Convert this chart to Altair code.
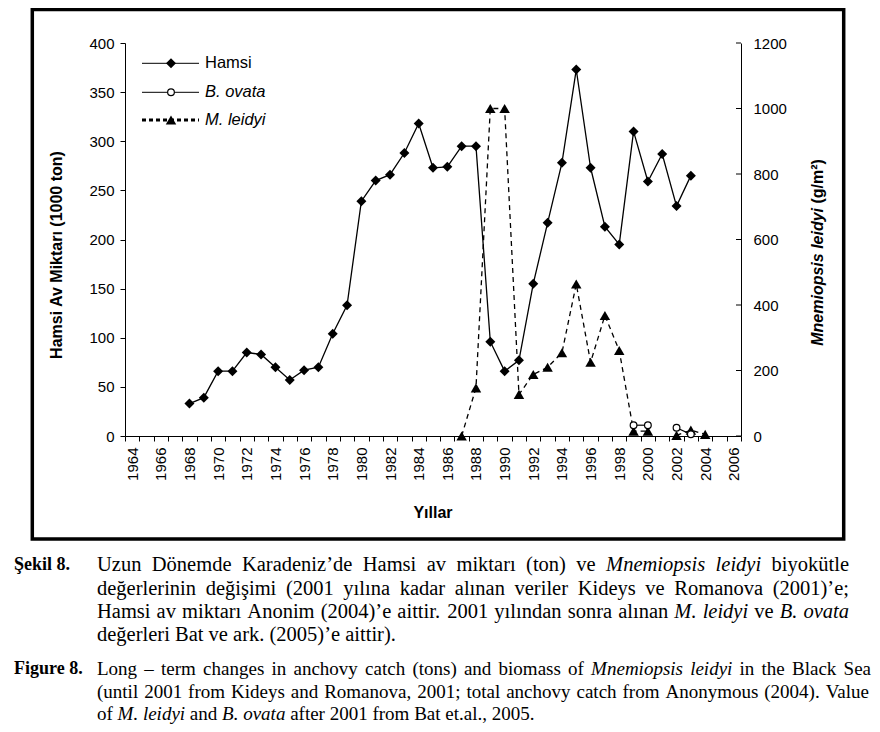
import altair as alt
import pandas as pd

# ---------------- data ----------------
hamsi_years = list(range(1968, 2004))
hamsi_values = [33, 39, 66, 66, 85, 83, 70, 57, 67, 70,
                104, 133, 239, 260, 266, 288, 318, 273, 274, 295,
                295, 96, 66, 77, 155, 217, 278, 373, 273, 213,
                195, 310, 259, 287, 234, 265]
leidyi_years = list(range(1987, 2005))
leidyi_values = [0, 147, 1000, 1000, 127, 188, 210, 254, 464, 225,
                 368, 261, 15, 15, None, 2, 18, 5]
ovata_years = [1999, 2000, 2001, 2002, 2003]
ovata_values = [33, 33, None, 25, 5]

left_ticks = list(range(0, 401, 50))
right_ticks = list(range(0, 1201, 200))
year_min, year_max = 1964, 2006

legend_labels = ["Hamsi", "B. ovata", "M. leidyi"]
x_title = "Yıllar"
left_title = "Hamsi Av Miktarı (1000 ton)"
right_title_italic = "Mnemiopsis leidyi"
right_title_rest = "(g/m²)"

label_tr = "Şekil 8."
label_en = "Figure 8."
caption_tr = [
    [("Uzun Dönemde Karadeniz’de Hamsi av miktarı (ton) ve", "n"), ("Mnemiopsis leidyi", "i"), ("biyokütle", "n")],
    [("değerlerinin değişimi (2001 yılına kadar alınan veriler Kideys ve Romanova (2001)’e;", "n")],
    [("Hamsi av miktarı Anonim (2004)’e aittir. 2001 yılından sonra alınan", "n"), ("M. leidyi", "i"), ("ve", "n"), ("B. ovata", "i")],
    [("değerleri Bat ve ark. (2005)’e aittir).", "n")],
]
caption_en = [
    [("Long – term changes in anchovy catch (tons) and biomass of", "n"), ("Mnemiopsis leidyi", "i"), ("in the Black Sea", "n")],
    [("(until 2001 from Kideys and Romanova, 2001; total anchovy catch from Anonymous (2004). Value", "n")],
    [("of", "n"), ("M. leidyi", "i"), ("and", "n"), ("B. ovata", "i"), ("after 2001 from Bat et.al., 2005.", "n")],
]

# ---------------- layout constants ----------------
W, H = 616, 393
OX, OY = 125, 43          # page position of plot origin
SANS = "Liberation Sans"
SERIF = "Liberation Serif"
FS_TR, FS_EN, FS_LAB = 20.5, 19, 18


def segments(years, vals):
    rows, seg, prev = [], 0, False
    for y, v in zip(years, vals):
        if v is None:
            prev = False
            continue
        if not prev:
            seg += 1
        rows.append({"year": y, "value": v, "seg": seg})
        prev = True
    return pd.DataFrame(rows)


df_h = segments(hamsi_years, hamsi_values)
df_l = segments(leidyi_years, leidyi_values)
df_o = segments(ovata_years, ovata_values)

# Times metrics (per 1000 em) for caption word layout
ROMAN = {" ": 250, "(": 333, ")": 333, ",": 250, ".": 250, ";": 278, "’": 333, "–": 500,
         "A": 722, "B": 667, "D": 722, "F": 556, "H": 722, "K": 722, "L": 611, "M": 889,
         "R": 667, "S": 556, "U": 722, "V": 722, "Ş": 556,
         "a": 444, "b": 500, "c": 444, "d": 500, "e": 444, "f": 333, "g": 500, "h": 500,
         "i": 278, "k": 500, "l": 278, "m": 778, "n": 500, "o": 500, "p": 500, "r": 333,
         "s": 389, "t": 278, "u": 500, "v": 500, "w": 722, "y": 500, "z": 444,
         "ö": 500, "ü": 500, "ğ": 500, "ş": 389, "ı": 278}
ITALIC = {" ": 250, ".": 250, "B": 611, "M": 833, "a": 500, "d": 500, "e": 444, "i": 278,
          "l": 278, "m": 722, "n": 500, "o": 500, "p": 500, "s": 389, "t": 278, "v": 444, "y": 444}


def wwidth(word, style, fs):
    tab = ITALIC if style == "i" else ROMAN
    return sum(tab.get(c, 500) for c in word) / 1000.0 * fs


def layout(lines, lang, fs, x0, x_right, ys, justify):
    rows = []
    for li, (segs, y) in enumerate(zip(lines, ys)):
        words = []
        for text, st in segs:
            for w in text.split(" "):
                words.append((w, st))
        widths = [wwidth(w, st, fs) for w, st in words]
        if justify[li] and len(words) > 1:
            gap = (x_right - x0 - sum(widths)) / (len(words) - 1)
        else:
            gap = 0.25 * fs
        x = x0
        for (w, st), wd in zip(words, widths):
            rows.append({"t": w, "px": x - OX, "py": y - OY, "kind": lang + "_" + st})
            x += wd + gap
    return rows


cap_rows = []
cap_rows += layout(caption_tr, "tr", FS_TR, 97, 849, [565, 589, 612, 635], [True, True, True, False])
cap_rows += layout(caption_en, "en", FS_EN, 97, 871, [669, 692, 714], [True, True, False])
cap_rows += [{"t": label_tr, "px": 14 - OX, "py": 565 - OY, "kind": "lab"},
             {"t": label_en, "px": 14 - OX, "py": 669 - OY, "kind": "lab"}]
df_cap = pd.DataFrame(cap_rows)

# ---------------- scales & axes ----------------
x_scale = alt.Scale(domain=[year_min - 0.5, year_max + 0.5], nice=False, zero=False)
step = W / (year_max - year_min + 1)
label_expr = ("(datum.value + 0.5) % 2 == 0 && datum.value < " + str(year_max)
              + " ? toString(datum.value + 0.5) : ''")
x_axis = alt.Axis(
    values=[year_min - 0.5 + i for i in range(year_max - year_min + 2)],
    labelExpr=label_expr,
    labelAngle=270, labelAlign="right", labelBaseline="middle",
    labelOffset=step / 2, labelFlush=False, labelOverlap=False,
    tickSize=5, labelPadding=6, labelFont=SANS, labelFontSize=15, labelColor="black",
    domainColor="black", tickColor="black", domainWidth=1, tickWidth=1, grid=False, title=None)
yl_scale = alt.Scale(domain=[0, 400], nice=False)
yl_axis = alt.Axis(values=left_ticks, grid=False, title=None, tickSize=5, labelPadding=6,
                   labelFont=SANS, labelFontSize=15, labelColor="black",
                   domainColor="black", tickColor="black")
yr_scale = alt.Scale(domain=[0, 1200], nice=False)
yr_axis = alt.Axis(values=right_ticks, orient="right", grid=False, title=None, ticks=False,
                   format="d", labelPadding=12, labelFont=SANS, labelFontSize=15, labelColor="black",
                   domainColor="black")

X = alt.X("year:Q", scale=x_scale, axis=x_axis)

# ---------------- left group ----------------
frame = alt.Chart(pd.DataFrame({"a": [0]})).mark_rect(
    filled=False, stroke="black", strokeWidth=3.5).encode(
    x=alt.value(32.3 - OX), x2=alt.value(843.7 - OX), y=alt.value(9.5 - OY), y2=alt.value(539 - OY))

h_line = alt.Chart(df_h).mark_line(color="black", strokeWidth=1.3).encode(
    x=X, y=alt.Y("value:Q", scale=yl_scale, axis=yl_axis), detail="seg:N")
h_pts = alt.Chart(df_h).mark_point(shape="diamond", filled=True, color="black", size=100, opacity=1).encode(
    x=X, y=alt.Y("value:Q", scale=yl_scale, axis=yl_axis))

# legend
leg = pd.DataFrame({"label": legend_labels, "ly": [63.3 - OY, 92.3 - OY, 120 - OY]})
LX1, LX2, LM, LT = 142 - OX, 199 - OX, 171 - OX, 205 - OX
Ypx = alt.Y("ly:Q", scale=None, axis=None)
leg_solid = alt.Chart(leg).transform_filter(alt.datum.label != legend_labels[2]).mark_rule(
    color="black", strokeWidth=1).encode(x=alt.value(LX1), x2=alt.value(LX2), y=Ypx)
leg_dash = alt.Chart(leg).transform_filter(alt.datum.label == legend_labels[2]).mark_rule(
    color="black", strokeWidth=3, strokeDash=[4, 3]).encode(x=alt.value(LX1), x2=alt.value(LX2), y=Ypx)
leg_d = alt.Chart(leg).transform_filter(alt.datum.label == legend_labels[0]).mark_point(
    shape="diamond", filled=True, color="black", size=100, opacity=1).encode(x=alt.value(LM), y=Ypx)
leg_c = alt.Chart(leg).transform_filter(alt.datum.label == legend_labels[1]).mark_point(
    shape="circle", filled=True, fill="white", stroke="black", strokeWidth=1.2, size=45, opacity=1).encode(
    x=alt.value(LM), y=Ypx)
leg_t = alt.Chart(leg).transform_filter(alt.datum.label == legend_labels[2]).mark_point(
    shape="triangle-up", filled=True, color="black", size=110, opacity=1).encode(x=alt.value(LM), y=Ypx)
leg_txt_n = alt.Chart(leg).transform_filter(alt.datum.label == legend_labels[0]).mark_text(
    align="left", baseline="middle", font=SANS, fontSize=16.5, color="black").encode(
    x=alt.value(LT), y=Ypx, text="label:N")
leg_txt_i = alt.Chart(leg).transform_filter(alt.datum.label != legend_labels[0]).mark_text(
    align="left", baseline="middle", font=SANS, fontSize=16.5, fontStyle="italic", color="black").encode(
    x=alt.value(LT), y=Ypx, text="label:N")

# axis titles
tdf = pd.DataFrame({"t": [left_title, x_title, right_title_italic, right_title_rest],
                    "k": ["l", "x", "ri", "rn"]})
t_left = alt.Chart(tdf).transform_filter(alt.datum.k == "l").mark_text(
    angle=270, align="center", baseline="middle", font=SANS, fontSize=16, fontWeight="bold", color="black").encode(
    x=alt.value(57 - OX), y=alt.value(255 - OY), text="t:N")
t_x = alt.Chart(tdf).transform_filter(alt.datum.k == "x").mark_text(
    align="center", baseline="middle", font=SANS, fontSize=16, fontWeight="bold", color="black").encode(
    x=alt.value(433 - OX), y=alt.value(513 - OY), text="t:N")
t_ri = alt.Chart(tdf).transform_filter(alt.datum.k == "ri").mark_text(
    angle=270, align="left", baseline="middle", font=SANS, fontSize=16, fontWeight="bold",
    fontStyle="italic", color="black").encode(
    x=alt.value(818 - OX), y=alt.value(345.75 - OY), text="t:N")
t_rn = alt.Chart(tdf).transform_filter(alt.datum.k == "rn").mark_text(
    angle=270, align="left", baseline="middle", font=SANS, fontSize=16, fontWeight="bold", color="black").encode(
    x=alt.value(818 - OX), y=alt.value(203.5 - OY), text="t:N")

# captions
CX = alt.X("px:Q", scale=None, axis=None)
CY = alt.Y("py:Q", scale=None, axis=None)


def cap_layer(kind, fs, style=None, weight=None):
    kw = dict(align="left", baseline="middle", font=SERIF, fontSize=fs, color="black")
    if style:
        kw["fontStyle"] = style
    if weight:
        kw["fontWeight"] = weight
    return alt.Chart(df_cap).transform_filter(alt.datum.kind == kind).mark_text(**kw).encode(
        x=CX, y=CY, text="t:N")


caps = [cap_layer("tr_n", FS_TR), cap_layer("tr_i", FS_TR, "italic"),
        cap_layer("en_n", FS_EN), cap_layer("en_i", FS_EN, "italic"),
        cap_layer("lab", FS_LAB, weight="bold")]

left = alt.layer(frame, h_line, h_pts, leg_solid, leg_dash, leg_d, leg_c, leg_t, leg_txt_n, leg_txt_i,
                 t_left, t_x, t_ri, t_rn, *caps)

# ---------------- right group ----------------
YR = alt.Y("value:Q", scale=yr_scale, axis=yr_axis)
l_line = alt.Chart(df_l).mark_line(color="black", strokeWidth=1.3, strokeDash=[5, 4]).encode(
    x=X, y=YR, detail="seg:N")
o_line = alt.Chart(df_o).mark_line(color="black", strokeWidth=1.2).encode(x=X, y=YR, detail="seg:N")
l_pts = alt.Chart(df_l).mark_point(shape="triangle-up", filled=True, color="black", size=110, opacity=1).encode(
    x=X, y=YR)
o_pts = alt.Chart(df_o).mark_point(shape="circle", filled=True, fill="white", stroke="black",
                                    strokeWidth=1.2, size=45, opacity=1).encode(x=X, y=YR)
rt = alt.Chart(pd.DataFrame({"value": right_ticks})).mark_rule(color="black", strokeWidth=1).encode(
    x=alt.value(W - 5), x2=alt.value(W), y=YR)

right = alt.layer(l_line, o_line, l_pts, o_pts, rt)

chart = alt.layer(left, right).resolve_scale(y="independent").properties(
    width=W, height=H,
    autosize=alt.AutoSizeParams(type="none"),
    padding={"left": OX - 8, "top": OY - 8, "right": 880 - 16 - (OX - 8) - W, "bottom": 732 - 16 - (OY - 8) - H},
    background="white",
).configure_view(strokeWidth=0)

chart.save("out.html", embed_options={"renderer": "svg", "actions": False})
